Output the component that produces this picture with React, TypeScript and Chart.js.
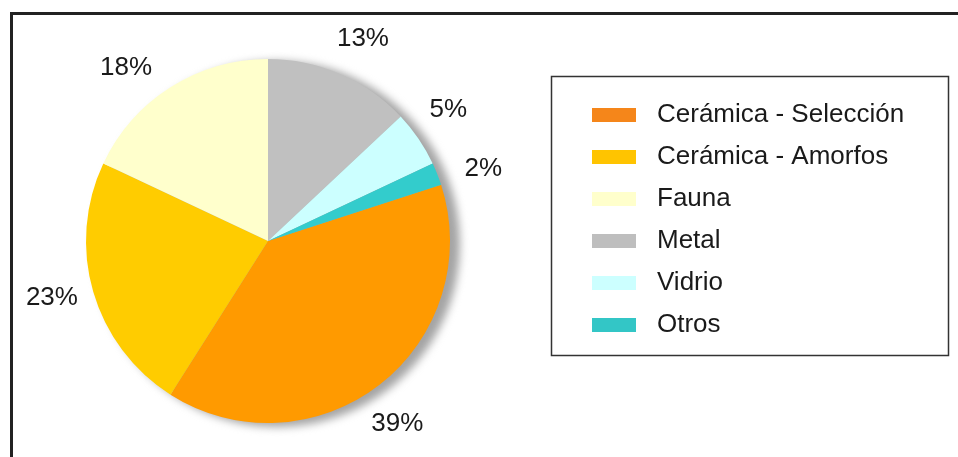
import React, { useEffect, useRef } from 'react';
import { Chart, registerables } from 'chart.js';

Chart.register(...registerables);

const categories = ['Cerámica - Selección', 'Cerámica - Amorfos', 'Fauna', 'Metal', 'Vidrio', 'Otros'];
const values = [39, 23, 18, 13, 5, 2];
const sliceColors = ['#FF9A00', '#FFCC00', '#FFFFCC', '#C0C0C0', '#CCFFFF', '#33CCCC'];
const swatchColors = ['#F5861A', '#FFC400', '#FFFFCC', '#BEBEBE', '#CCFFFF', '#33C6C6'];

// small manual nudges of the percentage labels (style, in px)
const labelNudgeX = [-8, -1, -22, 6, -5, 7];
const labelNudgeY = [6, -6, 16, 3, -5, 10];

const FONT = '"Liberation Sans", Arial, sans-serif';

const framePlugin = {
  id: 'frame',
  beforeDraw(chart: any) {
    const ctx = chart.ctx;
    ctx.save();
    ctx.fillStyle = '#ffffff';
    ctx.fillRect(0, 0, chart.width, chart.height);
    ctx.fillStyle = '#222222';
    ctx.fillRect(10, 12, chart.width - 10, 3);
    ctx.fillRect(10, 12, 3, chart.height - 12);
    ctx.restore();
  },
};

const shadowPlugin = {
  id: 'pieShadow',
  beforeDatasetsDraw(chart: any) {
    const arc = chart.getDatasetMeta(0).data[0];
    if (!arc) return;
    const { x, y, outerRadius } = arc.getProps(['x', 'y', 'outerRadius'], true);
    const ctx = chart.ctx;
    ctx.save();
    ctx.filter = 'blur(4px)';
    ctx.fillStyle = '#a4a4a4';
    ctx.beginPath();
    ctx.arc(x + 9, y + 3, outerRadius + 1, 0, Math.PI * 2);
    ctx.fill();
    ctx.restore();
  },
};

const labelPlugin = {
  id: 'pctLabels',
  afterDatasetsDraw(chart: any) {
    const ctx = chart.ctx;
    const meta = chart.getDatasetMeta(0);
    ctx.save();
    ctx.font = `26px ${FONT}`;
    ctx.fillStyle = '#1a1a1a';
    ctx.textAlign = 'center';
    ctx.textBaseline = 'middle';
    meta.data.forEach((arc: any, i: number) => {
      const { x, y, startAngle, endAngle, outerRadius } = arc.getProps(
        ['x', 'y', 'startAngle', 'endAngle', 'outerRadius'],
        true
      );
      const mid = (startAngle + endAngle) / 2;
      const r = outerRadius + 42;
      ctx.fillText(
        `${values[i]}%`,
        x + Math.cos(mid) * r + labelNudgeX[i],
        y + Math.sin(mid) * r + labelNudgeY[i]
      );
    });
    ctx.restore();
  },
};

const legendPlugin = {
  id: 'boxLegend',
  afterDraw(chart: any) {
    const ctx = chart.ctx;
    ctx.save();
    ctx.strokeStyle = '#333333';
    ctx.lineWidth = 1.5;
    ctx.strokeRect(551.5, 76.5, 397, 279);
    ctx.font = `26px ${FONT}`;
    ctx.textAlign = 'left';
    ctx.textBaseline = 'middle';
    const labels: string[] = chart.data.labels;
    labels.forEach((lab, i) => {
      const cy = 115 + i * 42;
      ctx.fillStyle = swatchColors[i];
      ctx.fillRect(592, cy - 7, 44, 14);
      ctx.fillStyle = '#1a1a1a';
      ctx.fillText(lab, 657, cy);
    });
    ctx.restore();
  },
};

export default function App() {
  const ref = useRef<HTMLCanvasElement>(null);

  useEffect(() => {
    if (!ref.current) return;
    const chart = new Chart(ref.current, {
      type: 'pie',
      data: {
        labels: categories,
        datasets: [
          {
            data: values,
            backgroundColor: sliceColors,
            borderWidth: 0,
          },
        ],
      },
      options: {
        responsive: false,
        animation: false,
        rotation: 72,
        layout: { padding: { left: 86, right: 508, top: 59, bottom: 34 } },
        plugins: {
          legend: { display: false },
          tooltip: { enabled: false },
        },
      },
      plugins: [framePlugin, shadowPlugin, labelPlugin, legendPlugin],
    });
    return () => chart.destroy();
  }, []);

  return (
    <div style={{ position: 'fixed', left: 0, top: 0, width: 958, height: 457, background: '#fff' }}>
      <canvas ref={ref} width={958} height={457} />
    </div>
  );
}
